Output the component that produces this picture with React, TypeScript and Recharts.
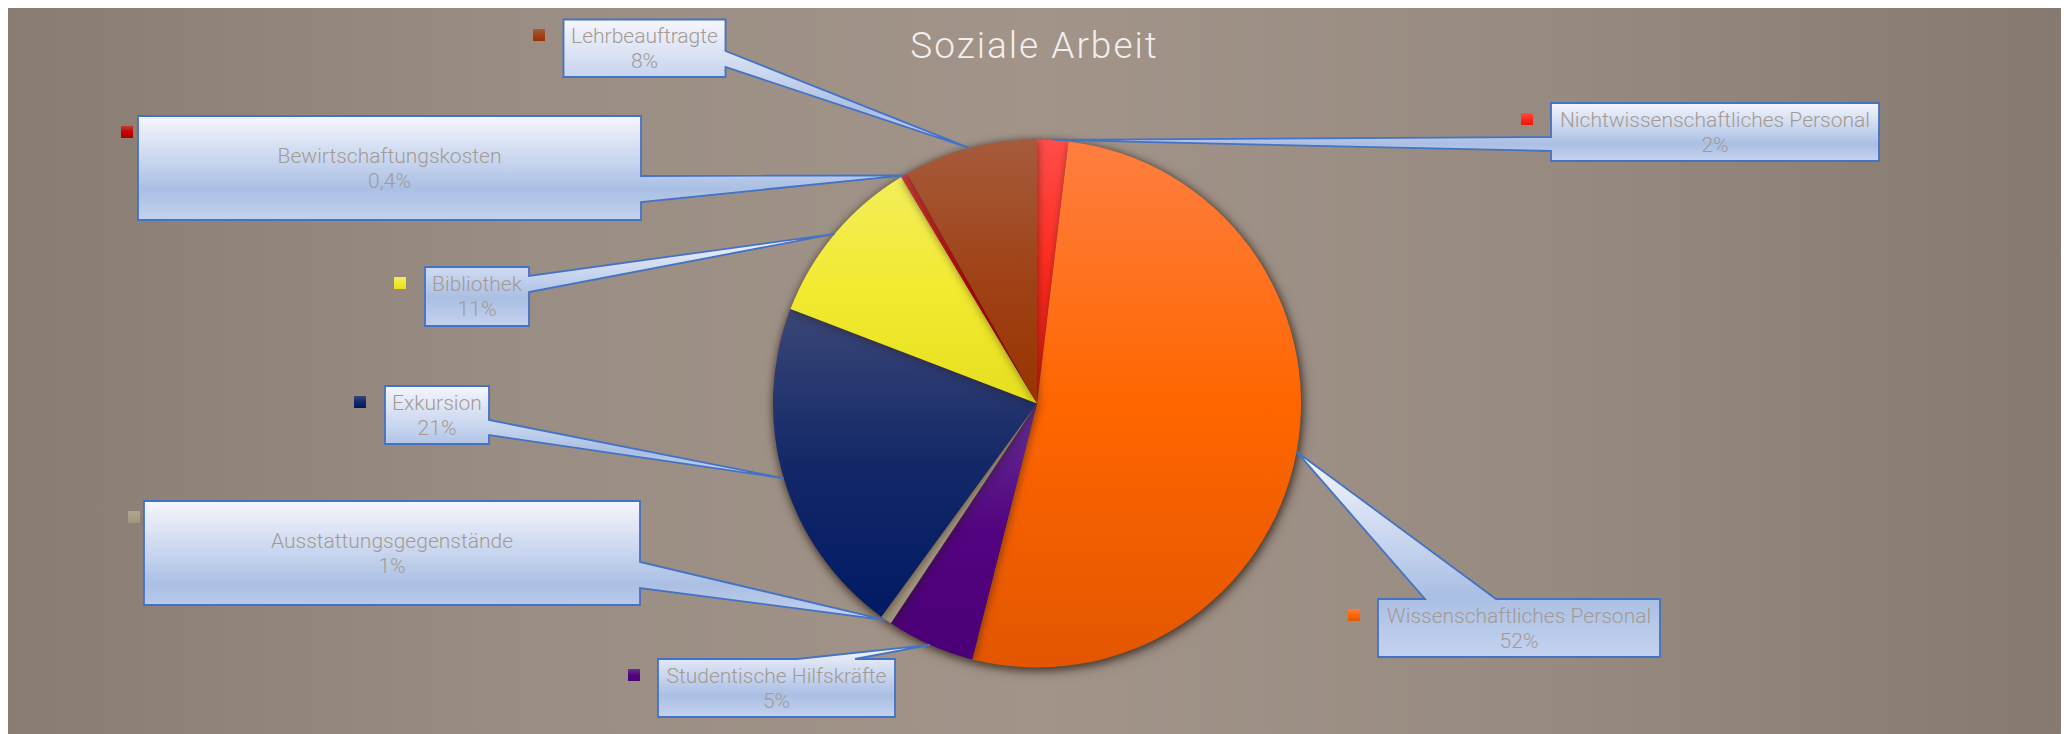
import React from 'react';
import { PieChart, Pie, Cell } from 'recharts';

// ---- data ----
const title = 'Soziale Arbeit';
const categories = [
  'Nichtwissenschaftliches Personal',
  'Wissenschaftliches Personal',
  'Studentische Hilfskräfte',
  'Ausstattungsgegenstände',
  'Exkursion',
  'Bibliothek',
  'Bewirtschaftungskosten',
  'Lehrbeauftragte',
];
const shares = [1.9, 52.1, 5.4, 0.7, 20.8, 10.6, 0.4, 8.2];
const percentLabels = ['2%', '52%', '5%', '1%', '21%', '11%', '0,4%', '8%'];

const data = categories.map((name, i) => ({ name, value: shares[i] }));

// ---- styles ----
const W = 2061;
const H = 728;
const sliceGradients: string[][] = [
  ['#ff4d4a', '#ff2a1e', '#ee150a'],
  ['#ff7e40', '#ff6600', '#e35600'],
  ['#632f92', '#530380', '#4a0076'],
  ['#b0a690', '#a99e86', '#9f947c'],
  ['#3a4676', '#142868', '#001a64'],
  ['#f3ed5c', '#f2ea30', '#e6df1e'],
  ['#c83a3a', '#c00000', '#b00000'],
  ['#a65b3c', '#a04318', '#993300'],
];

type Box = { x: number; y: number; w: number; h: number; side: 'right' | 'top' | 'left'; b0: number; b1: number; mx: number; my: number };
const calloutLayout: Box[] = [
  { x: 1543, y: 97, w: 328, h: 58, side: 'left', b0: 131, b1: 145, mx: 1513, my: 107 },
  { x: 1370, y: 593, w: 282, h: 58, side: 'top', b0: 1417, b1: 1488, mx: 1340, my: 603 },
  { x: 650, y: 653, w: 237, h: 58, side: 'top', b0: 789, b1: 847, mx: 620, my: 663 },
  { x: 136, y: 495, w: 496, h: 104, side: 'right', b0: 556, b1: 582, mx: 120, my: 505 },
  { x: 377, y: 380, w: 104, h: 58, side: 'right', b0: 414, b1: 429, mx: 346, my: 390 },
  { x: 417, y: 261, w: 104, h: 59, side: 'right', b0: 270, b1: 286, mx: 386, my: 271 },
  { x: 130, y: 110, w: 503, h: 104, side: 'right', b0: 170, b1: 196, mx: 113, my: 120 },
  { x: 555.5, y: 13.5, w: 162, h: 57.5, side: 'right', b0: 45, b1: 61, mx: 525, my: 23 },
];

const RAD = Math.PI / 180;

function renderCallout(props: any) {
  const { cx, cy, midAngle, outerRadius, index } = props;
  const L = calloutLayout[index];
  const ax = cx + outerRadius * Math.cos(-midAngle * RAD);
  const ay = cy + outerRadius * Math.sin(-midAngle * RAD);
  const { x, y, w, h, side, b0, b1, mx, my } = L;
  let d = '';
  if (side === 'right') {
    d = `M${x},${y} H${x + w} V${b0} L${ax},${ay} L${x + w},${b1} V${y + h} H${x} Z`;
  } else if (side === 'top') {
    d = `M${x},${y} H${b0} L${ax},${ay} L${b1},${y} H${x + w} V${y + h} H${x} Z`;
  } else {
    d = `M${x},${y} H${x + w} V${y + h} H${x} V${b1} L${ax},${ay} L${x},${b0} Z`;
  }
  const tx = x + w / 2;
  const tcy = y + h / 2;
  const textStyle = { fontFamily: 'Roboto, sans-serif', fontWeight: 300, fontSize: 21, fill: '#a39a94' } as const;
  return (
    <g key={`callout-${index}`}>
      <path d={d} fill="url(#calloutFill)" stroke="#4472c4" strokeWidth={1.8} />
      <rect x={mx} y={my} width={12} height={12} fill={`url(#sliceGrad${index})`} />
      <text x={tx} y={tcy - 12.5} textAnchor="middle" dominantBaseline="central" style={textStyle}>
        {categories[index]}
      </text>
      <text x={tx} y={tcy + 12.5} textAnchor="middle" dominantBaseline="central" style={textStyle}>
        {percentLabels[index]}
      </text>
    </g>
  );
}

export default function App() {
  return (
    <div
      style={{
        position: 'relative',
        width: W,
        height: H,
        marginTop: -2,
        background: 'linear-gradient(90deg, #897c72 0%, #9a8d83 25%, #a29489 50%, #978a80 75%, #867970 100%)',
        overflow: 'hidden',
      }}
    >
      <style>{`.pie-main { filter: drop-shadow(1px 2px 4px rgba(45,30,20,0.55)); }`}</style>
      <svg width={W} height={H} style={{ position: 'absolute', left: 0, top: 0, pointerEvents: 'none' }}>
        <defs>
          {sliceGradients.map((g, i) => (
            <linearGradient key={i} id={`sliceGrad${i}`} x1="0" y1="0" x2="0" y2="1">
              <stop offset="0%" stopColor={g[0]} />
              <stop offset="50%" stopColor={g[1]} />
              <stop offset="100%" stopColor={g[2]} />
            </linearGradient>
          ))}
          <linearGradient id="calloutFill" x1="0" y1="0" x2="0" y2="1">
            <stop offset="0%" stopColor="#f6f6fc" />
            <stop offset="45%" stopColor="#c6d4ee" />
            <stop offset="70%" stopColor="#aabfe4" />
            <stop offset="100%" stopColor="#c4d2ee" />
          </linearGradient>
        </defs>
        <text
          x={1026.5}
          y={52}
          textAnchor="middle"
          style={{ fontFamily: 'Roboto, sans-serif', fontWeight: 300, fontSize: 37, fill: '#f1efed', letterSpacing: 2 }}
        >
          {title}
        </text>
      </svg>
      <PieChart width={W} height={H} margin={{ top: 0, right: 0, bottom: 0, left: 0 }}>
        <Pie
          data={data}
          dataKey="value"
          nameKey="name"
          cx={1029}
          cy={397.5}
          outerRadius={264}
          startAngle={90}
          endAngle={-270}
          stroke="none"
          className="pie-main"
          isAnimationActive={false}
          label={false}
          labelLine={false}
        >
          {data.map((_, i) => (
            <Cell key={i} fill={`url(#sliceGrad${i})`} stroke="none" />
          ))}
        </Pie>
        <Pie
          data={data}
          dataKey="value"
          nameKey="name"
          cx={1029}
          cy={397.5}
          outerRadius={264}
          startAngle={90}
          endAngle={-270}
          fill="none"
          stroke="none"
          isAnimationActive={false}
          label={renderCallout}
          labelLine={false}
        >
          {data.map((_, i) => (
            <Cell key={i} fill="none" stroke="none" />
          ))}
        </Pie>
      </PieChart>
    </div>
  );
}
